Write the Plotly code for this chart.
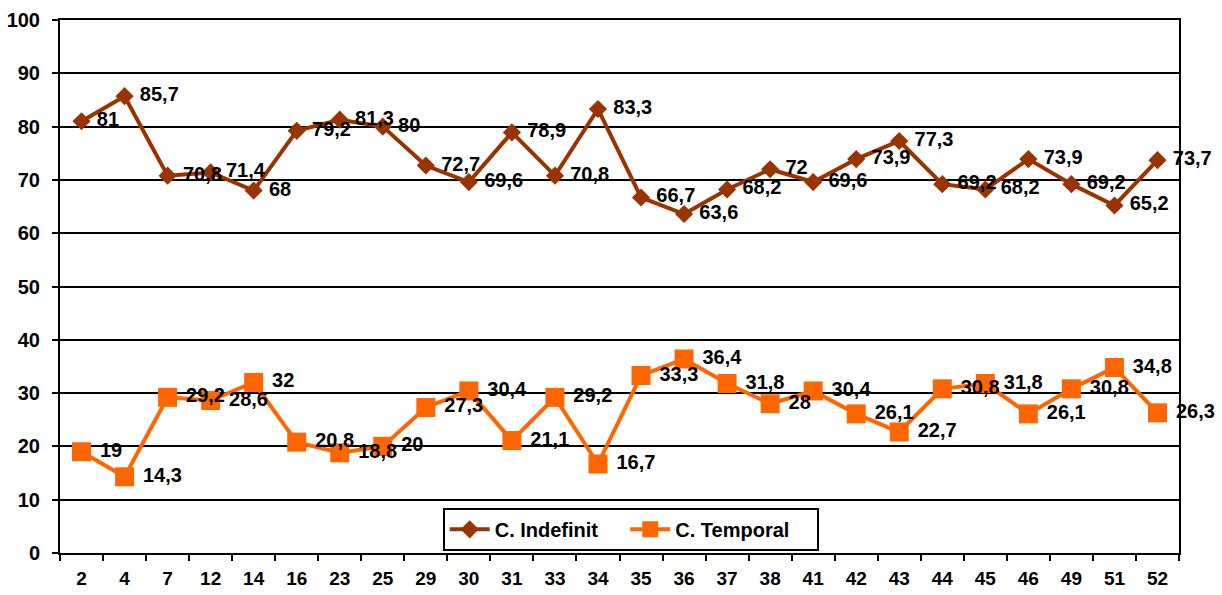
import plotly.graph_objects as go

categorias = ["2", "4", "7", "12", "14", "16", "23", "25", "29", "30", "31", "33", "34",
              "35", "36", "37", "38", "41", "42", "43", "44", "45", "46", "49", "51", "52"]
indefinit = [81, 85.7, 70.8, 71.4, 68, 79.2, 81.3, 80, 72.7, 69.6, 78.9, 70.8, 83.3,
             66.7, 63.6, 68.2, 72, 69.6, 73.9, 77.3, 69.2, 68.2, 73.9, 69.2, 65.2, 73.7]
temporal = [19, 14.3, 29.2, 28.6, 32, 20.8, 18.8, 20, 27.3, 30.4, 21.1, 29.2, 16.7,
            33.3, 36.4, 31.8, 28, 30.4, 26.1, 22.7, 30.8, 31.8, 26.1, 30.8, 34.8, 26.3]
y_ticks = [0, 10, 20, 30, 40, 50, 60, 70, 80, 90, 100]

FONT = "Liberation Sans, Arial, sans-serif"
FS = 20


def etiqueta(v):
    s = f"{v:g}".replace(".", ",")
    return "<b> " + s + "</b>"


fig = go.Figure()
fig.add_trace(go.Scatter(
    x=categorias, y=indefinit, name="<b>C. Indefinit</b>    ",
    mode="lines+markers+text", cliponaxis=False,
    line=dict(color="#993300", width=4),
    marker=dict(symbol="diamond", size=14, color="#993300"),
    text=[etiqueta(v) for v in indefinit], textposition="middle right",
    textfont=dict(family=FONT, size=FS, color="black"),
))
fig.add_trace(go.Scatter(
    x=categorias, y=temporal, name="<b>C. Temporal</b>    ",
    mode="lines+markers+text", cliponaxis=False,
    line=dict(color="#FF6600", width=4),
    marker=dict(symbol="square", size=19, color="#FF6600"),
    text=[etiqueta(v) for v in temporal], textposition="middle right",
    textfont=dict(family=FONT, size=FS, color="black"),
))

fig.update_layout(
    width=1222, height=595,
    margin=dict(l=60, r=43, t=20, b=42, autoexpand=False),
    paper_bgcolor="white", plot_bgcolor="white",
    font=dict(family=FONT, size=FS, color="black"),
    legend=dict(
        orientation="h", x=0.51, xanchor="center", y=0.004, yanchor="bottom",
        bgcolor="white", bordercolor="black", borderwidth=2,
        font=dict(family=FONT, size=FS, color="black"),
        itemwidth=40,
    ),
    showlegend=True,
)
fig.update_xaxes(
    type="category", range=[-0.5, len(categorias) - 0.5], automargin=False,
    tickson="boundaries", ticks="outside", ticklen=6, tickwidth=2, tickcolor="black",
    showline=True, linecolor="black", linewidth=2, mirror=True,
    showgrid=False, tickfont=dict(family=FONT, size=19, color="black"),
    tickvals=categorias, ticktext=[f"<b>{c}</b>" for c in categorias],
    ticklabelstandoff=7,
)
fig.update_yaxes(
    range=[0, 100], tickvals=y_ticks, ticktext=[f"<b>{t}</b>" for t in y_ticks],
    automargin=False,
    ticks="outside", ticklen=6, tickwidth=2, tickcolor="black",
    showline=True, linecolor="black", linewidth=2, mirror=True,
    showgrid=True, gridcolor="black", gridwidth=2, zeroline=False,
    tickfont=dict(family=FONT, size=FS, color="black"),
    ticklabelstandoff=8,
)

fig.write_html("out.html")
